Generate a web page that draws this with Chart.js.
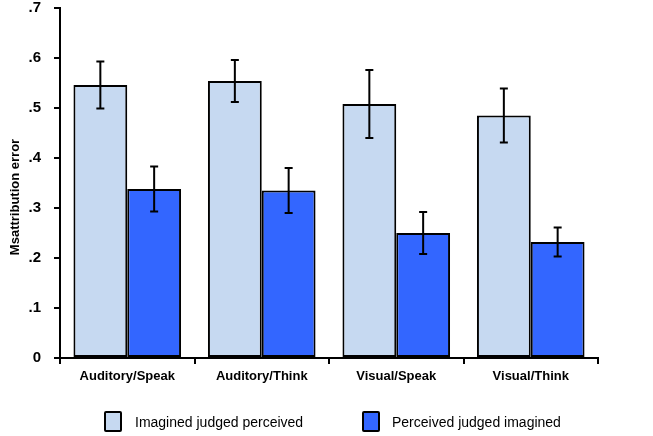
<!DOCTYPE html>
<html>
<head>
<meta charset="utf-8">
<script src="https://cdn.jsdelivr.net/npm/chart.js@4"></script>
<style>
  html, body { margin: 0; padding: 0; background: #fff; }
  #wrap { position: relative; width: 653px; height: 436px; }
  #legend { position: absolute; left: 0; top: 411px; width: 653px; height: 22px;
            font: 14px "Liberation Sans", Arial, sans-serif; color: #000; }
  .item { position: absolute; top: 0; height: 21px; line-height: 21px; white-space: nowrap; }
  .box { position: absolute; left: 0; top: 0; width: 18px; height: 21px; box-sizing: border-box;
         border: 2px solid #000; border-radius: 2px; }
  .txt { position: absolute; top: 1px; }
</style>
</head>
<body>
<div id="wrap">
  <canvas id="chart" width="653" height="436"></canvas>
  <div id="legend"></div>
</div>
<script>
const categories = ['Auditory/Speak', 'Auditory/Think', 'Visual/Speak', 'Visual/Think'];
const seriesNames = ['Imagined judged perceived', 'Perceived judged imagined'];
const imaginedJudgedPerceived = [0.546, 0.554, 0.508, 0.485];
const imaginedErr = [0.047, 0.042, 0.068, 0.054];
const perceivedJudgedImagined = [0.338, 0.335, 0.250, 0.232];
const perceivedErr = [0.045, 0.045, 0.042, 0.029];
const yTickLabels = ['0', '.1', '.2', '.3', '.4', '.5', '.6', '.7'];
const yTitle = 'Msattribution error';
const colors = ['#c6d9f1', '#3366ff'];

const FONT = '"Liberation Sans", Arial, sans-serif';

// error bars drawn from the bar elements and the y scale
const errorBars = {
    id: 'errorBars',
    afterDatasetsDraw(chart) {
        const ctx = chart.ctx;
        const y = chart.scales.y;
        ctx.save();
        ctx.strokeStyle = '#000';
        ctx.lineWidth = 2;
        chart.data.datasets.forEach((ds, i) => {
            chart.getDatasetMeta(i).data.forEach((bar, j) => {
                const v = ds.data[j], e = ds.errors[j];
                const top = y.getPixelForValue(v + e);
                const bot = y.getPixelForValue(v - e);
                ctx.beginPath();
                ctx.moveTo(bar.x, top); ctx.lineTo(bar.x, bot);
                ctx.moveTo(bar.x - 4, top); ctx.lineTo(bar.x + 4, top);
                ctx.moveTo(bar.x - 4, bot); ctx.lineTo(bar.x + 4, bot);
                ctx.stroke();
            });
        });
        ctx.restore();
    }
};

// y axis title, sitting a little below the middle of the axis like the original
const axisTitle = {
    id: 'axisTitle',
    afterDraw(chart) {
        const ctx = chart.ctx;
        const a = chart.chartArea;
        ctx.save();
        ctx.translate(15, (a.top + a.bottom) / 2 + 14);
        ctx.rotate(-Math.PI / 2);
        ctx.font = 'bold 13px ' + FONT;
        ctx.fillStyle = '#000';
        ctx.textAlign = 'center';
        ctx.textBaseline = 'middle';
        ctx.fillText(yTitle, 0, 0);
        ctx.restore();
    }
};

new Chart(document.getElementById('chart'), {
    type: 'bar',
    data: {
        labels: categories,
        datasets: [
            { label: seriesNames[0], data: imaginedJudgedPerceived, errors: imaginedErr,
              backgroundColor: colors[0], borderColor: '#000', borderWidth: 2, borderSkipped: false },
            { label: seriesNames[1], data: perceivedJudgedImagined, errors: perceivedErr,
              backgroundColor: colors[1], borderColor: '#000', borderWidth: 2, borderSkipped: false }
        ]
    },
    options: {
        responsive: false,
        animation: false,
        layout: { padding: { top: 8, right: 55, bottom: 50, left: 0 } },
        datasets: { bar: { categoryPercentage: 0.8, barPercentage: 1 } },
        plugins: { legend: { display: false }, tooltip: { enabled: false } },
        scales: {
            x: {
                grid: { drawOnChartArea: false, tickLength: 6, color: '#000', lineWidth: 2 },
                border: { color: '#000', width: 2 },
                ticks: { color: '#000', padding: 5, font: { family: FONT, size: 13, weight: 'bold' } },
                afterFit(s) { s.height = 28; s.paddingLeft = 0; s.paddingRight = 0; }
            },
            y: {
                min: 0, max: 0.7,
                grid: { drawOnChartArea: false, tickLength: 6, color: '#000', lineWidth: 2 },
                border: { color: '#000', width: 2 },
                ticks: {
                    stepSize: 0.1, color: '#000', padding: 13,
                    font: { family: FONT, size: 15, weight: 'bold' },
                    callback: (v) => yTickLabels[Math.round(v * 10)]
                },
                afterFit(s) { s.width = 60; s.paddingTop = 0; s.paddingBottom = 0; }
            }
        }
    },
    plugins: [errorBars, axisTitle]
});

// legend
const legend = document.getElementById('legend');
const boxLeft = [104, 362];
seriesNames.forEach((name, i) => {
    const item = document.createElement('div');
    item.className = 'item';
    item.style.left = boxLeft[i] + 'px';
    item.innerHTML = '<span class="box" style="background:' + colors[i] + '"></span>' +
                     '<span class="txt" style="left:' + (i === 0 ? 31 : 30) + 'px">' + name + '</span>';
    legend.appendChild(item);
});
</script>
</body>
</html>
